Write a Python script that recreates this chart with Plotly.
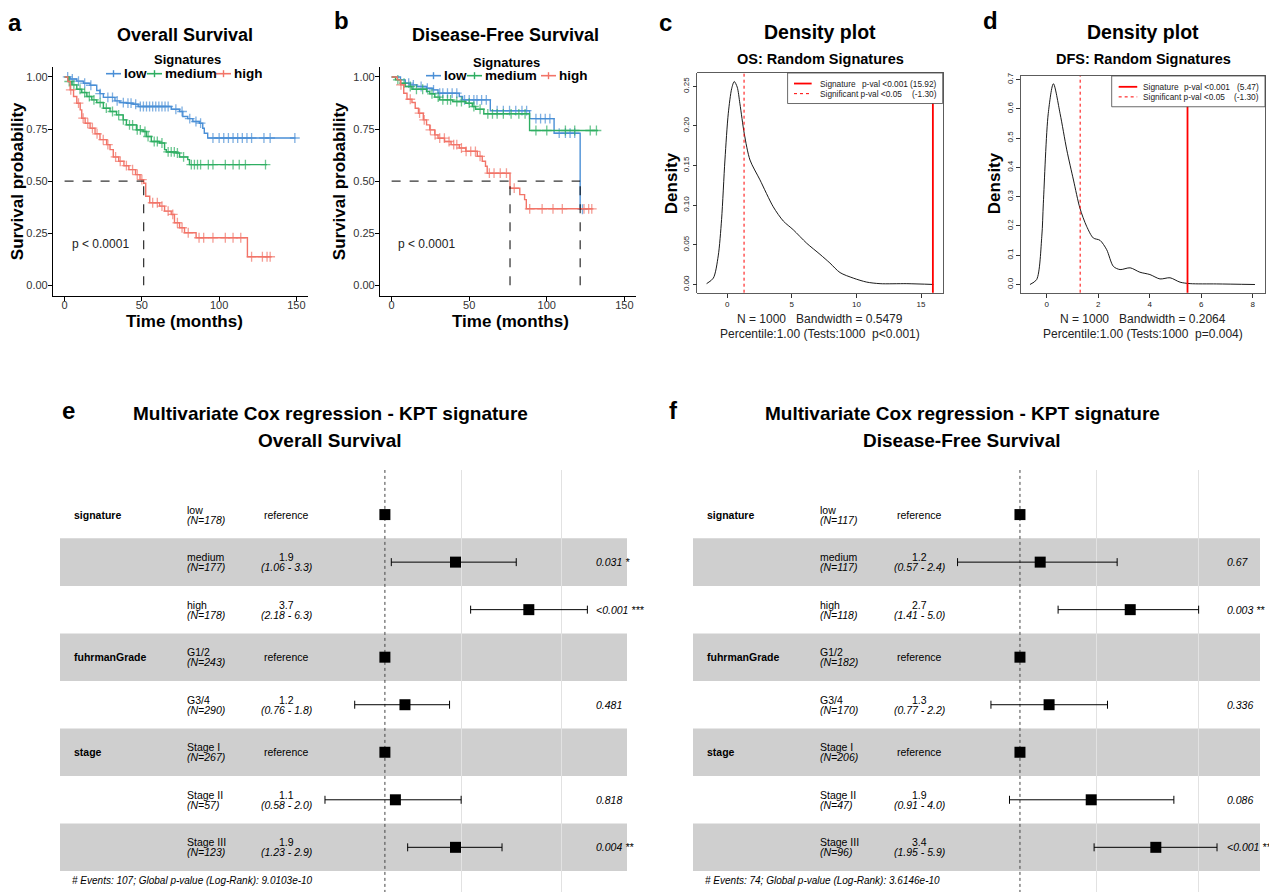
import plotly.graph_objects as go

W, H = 1269, 894
FONT = "Liberation Sans, Arial, Helvetica, sans-serif"


def fx(p):
    return p / W


def fy(p):
    return 1 - p / H


# ------------------------------------------------------------------ KM data
group_names = ["low", "medium", "high"]
group_colors = ["#4A8FD6", "#2EAE62", "#F27468"]

os_low_t = [0, 3.6, 7.9, 12.2, 16.5, 20.8, 22.9, 25.1, 32.6, 35.8, 40.0, 44.4, 47.6, 69.0, 74.4, 76.5, 79.7, 83.0, 87.2, 89.4, 90.4, 92.6, 149.5]
os_low_s = [1.0, 0.99, 0.98, 0.97, 0.96, 0.935, 0.92, 0.902, 0.885, 0.877, 0.874, 0.869, 0.858, 0.845, 0.834, 0.81, 0.80, 0.786, 0.778, 0.754, 0.73, 0.707, 0.707]
os_low_c = [2, 5, 9, 13, 17, 23, 28, 31, 34, 38, 41, 43, 46, 49, 51, 53, 55, 57, 59, 61, 63, 65, 67, 72, 76, 81, 85, 88, 96, 100, 103, 106, 109, 112, 115, 118, 121, 129, 133, 149]

os_med_t = [0, 2.6, 4.7, 7.9, 11.1, 14.4, 17.6, 20.8, 25.1, 29.4, 33.6, 37.9, 40.0, 46.5, 50.8, 52.9, 56.1, 61.5, 64.7, 65.8, 72.2, 74.4, 79.7, 80.8, 131.0]
os_med_s = [1.0, 0.978, 0.962, 0.941, 0.925, 0.906, 0.89, 0.877, 0.85, 0.834, 0.818, 0.794, 0.77, 0.746, 0.738, 0.714, 0.69, 0.683, 0.651, 0.64, 0.635, 0.616, 0.603, 0.579, 0.579]
os_med_c = [3, 6, 10, 13, 16, 19, 23, 27, 31, 35, 38, 42, 44, 47, 49, 52, 54, 58, 60, 63, 67, 69, 71, 73, 77, 82, 84, 86, 88, 93, 96, 104, 109, 113, 117, 130]

os_high_t = [0, 2.1, 3.6, 5.8, 7.9, 10.1, 11.1, 13.3, 16.5, 19.7, 22.9, 27.2, 29.4, 31.5, 35.0, 38.4, 41.6, 45.9, 48.8, 51.2, 52.5, 55.1, 61.5, 64.7, 69.0, 71.1, 74.4, 77.6, 85.1, 118.3, 133.5]
os_high_s = [1.0, 0.978, 0.938, 0.906, 0.874, 0.842, 0.802, 0.778, 0.754, 0.727, 0.699, 0.675, 0.651, 0.616, 0.595, 0.574, 0.555, 0.531, 0.507, 0.49, 0.427, 0.396, 0.38, 0.356, 0.34, 0.30, 0.276, 0.252, 0.228, 0.137, 0.137]
os_high_c = [4, 9, 12, 15, 18, 21, 25, 28, 33, 36, 40, 44, 47, 50, 57, 60, 63, 67, 70, 73, 76, 80, 87, 90, 96, 104, 109, 114, 121, 128, 131, 133]

dfs_low_t = [0, 5.7, 8.8, 12.0, 16.2, 22.5, 26.8, 29.9, 43.6, 45.7, 63.6, 88.9, 104.7, 121.5, 124.0]
dfs_low_s = [1.0, 0.986, 0.97, 0.962, 0.954, 0.946, 0.938, 0.922, 0.906, 0.89, 0.838, 0.80, 0.73, 0.365, 0.365]
dfs_low_c = [11, 14, 19, 23, 27, 31, 33, 36, 39, 42, 47, 50, 53, 55, 58, 61, 68, 72, 76, 80, 84, 87, 93, 96, 99, 102, 108, 112, 115, 118, 123]

dfs_med_t = [0, 2.5, 5.7, 8.8, 13.1, 22.5, 24.6, 27.8, 31.0, 39.4, 47.8, 52.0, 54.1, 59.4, 88.9, 133.0]
dfs_med_s = [1.0, 0.986, 0.97, 0.954, 0.941, 0.93, 0.919, 0.903, 0.89, 0.882, 0.874, 0.858, 0.845, 0.823, 0.743, 0.743]
dfs_med_c = [4, 8, 12, 16, 20, 26, 30, 33, 36, 38, 42, 45, 50, 53, 57, 62, 65, 68, 72, 77, 82, 86, 93, 100, 112, 118, 128, 132]

dfs_high_t = [0, 3.6, 5.7, 7.8, 9.9, 13.1, 15.2, 17.3, 20.4, 22.5, 24.6, 27.8, 29.9, 34.1, 38.3, 43.6, 47.8, 55.2, 58.4, 60.5, 61.6, 76.3, 82.6, 85.7, 86.8, 129.5]
dfs_high_s = [1.0, 0.986, 0.962, 0.922, 0.893, 0.877, 0.85, 0.826, 0.794, 0.77, 0.746, 0.722, 0.706, 0.69, 0.675, 0.659, 0.643, 0.619, 0.595, 0.571, 0.538, 0.466, 0.435, 0.411, 0.367, 0.367]
dfs_high_c = [6, 12, 18, 21, 25, 28, 31, 34, 37, 40, 42, 45, 48, 51, 54, 57, 63, 66, 70, 74, 79, 89, 97, 104, 110, 124, 127, 129]

os_medians = [51.2]
dfs_medians = [76.3, 121.5]

km_xticks = [0, 50, 100, 150]
km_yticks = [0, 0.25, 0.5, 0.75, 1.0]

# ------------------------------------------------------------ density data
os_dens_x = [-1.6, -1.08, -0.70, -0.44, -0.18, 0.08, 0.34, 0.54, 0.77, 0.98, 1.32, 1.76, 2.53, 3.56, 4.34, 5.11, 6.15, 7.18, 7.95, 8.73, 9.76, 10.79, 11.83, 13.9, 15.96]
os_dens_y = [0.001, 0.008, 0.036, 0.082, 0.157, 0.216, 0.247, 0.256, 0.249, 0.228, 0.19, 0.157, 0.132, 0.098, 0.080, 0.069, 0.052, 0.038, 0.027, 0.015, 0.008, 0.003, 0.001, 0.001, 0.0]
dfs_dens_x = [-0.65, -0.39, -0.19, -0.13, 0.06, 0.26, 0.52, 0.78, 1.04, 1.29, 1.55, 1.81, 2.07, 2.33, 2.59, 2.85, 3.24, 3.62, 4.01, 4.4, 4.79, 5.18, 5.57, 6.6, 8.09]
dfs_dens_y = [0.0, 0.017, 0.165, 0.278, 0.584, 0.686, 0.584, 0.46, 0.357, 0.261, 0.199, 0.159, 0.151, 0.119, 0.062, 0.051, 0.057, 0.042, 0.034, 0.019, 0.023, 0.008, 0.003, 0.002, 0.0]
os_signature_val = 15.92
dfs_signature_val = 5.47
significance_val = 1.30

# ------------------------------------------------------------- forest data
forest_vars = ["signature", "", "", "fuhrmanGrade", "", "stage", "", ""]
forest_levels = ["low", "medium", "high", "G1/2", "G3/4", "Stage I", "Stage II", "Stage III"]

os_n = [178, 177, 178, 243, 290, 267, 57, 123]
os_hr = [1.0, 1.9, 3.7, 1.0, 1.2, 1.0, 1.1, 1.9]
os_lo = [1.0, 1.06, 2.18, 1.0, 0.76, 1.0, 0.58, 1.23]
os_hi = [1.0, 3.3, 6.3, 1.0, 1.8, 1.0, 2.0, 2.9]
os_hr_txt = ["reference", "1.9", "3.7", "reference", "1.2", "reference", "1.1", "1.9"]
os_ci_txt = ["", "(1.06 - 3.3)", "(2.18 - 6.3)", "", "(0.76 - 1.8)", "", "(0.58 - 2.0)", "(1.23 - 2.9)"]
os_p_txt = ["", "0.031 *", "&lt;0.001 ***", "", "0.481", "", "0.818", "0.004 **"]
os_footer = "# Events: 107; Global p-value (Log-Rank): 9.0103e-10"

dfs_n = [117, 117, 118, 182, 170, 206, 47, 96]
dfs_hr = [1.0, 1.2, 2.7, 1.0, 1.3, 1.0, 1.9, 3.4]
dfs_lo = [1.0, 0.57, 1.41, 1.0, 0.77, 1.0, 0.91, 1.95]
dfs_hi = [1.0, 2.4, 5.0, 1.0, 2.2, 1.0, 4.0, 5.9]
dfs_hr_txt = ["reference", "1.2", "2.7", "reference", "1.3", "reference", "1.9", "3.4"]
dfs_ci_txt = ["", "(0.57 - 2.4)", "(1.41 - 5.0)", "", "(0.77 - 2.2)", "", "(0.91 - 4.0)", "(1.95 - 5.9)"]
dfs_p_txt = ["", "0.67", "0.003 **", "", "0.336", "", "0.086", "&lt;0.001 ***"]
dfs_footer = "# Events: 74; Global p-value (Log-Rank): 3.6146e-10"

fig = go.Figure()
annotations = []
shapes = []


def surv_at(ts, ss, c):
    val = ss[0]
    for t, s in zip(ts, ss):
        if t <= c:
            val = s
    return val


def add_km(xa, ya, curves, medians):
    for (ts, ss, cs), name, col in zip(curves, group_names, group_colors):
        pts = [(t, s, 0) for t, s in zip(ts, ss)] + [(c, surv_at(ts, ss, c), 7) for c in cs]
        pts.sort(key=lambda p: (p[0], p[2]))
        fig.add_trace(go.Scatter(
            x=[p[0] for p in pts], y=[p[1] for p in pts],
            mode="lines+markers", line=dict(shape="hv", color=col, width=1.4),
            marker=dict(symbol="cross-thin", size=[p[2] for p in pts],
                        line=dict(color=col, width=1.3), color=col),
            name=name, showlegend=False, xaxis=xa, yaxis=ya, hoverinfo="skip"))
    fig.add_trace(go.Scatter(x=[0, max(medians)], y=[0.5, 0.5], mode="lines",
                             line=dict(color="black", width=1, dash="dash"),
                             showlegend=False, xaxis=xa, yaxis=ya, hoverinfo="skip"))
    for m in medians:
        fig.add_trace(go.Scatter(x=[m, m], y=[0, 0.5], mode="lines",
                                 line=dict(color="black", width=1, dash="dash"),
                                 showlegend=False, xaxis=xa, yaxis=ya, hoverinfo="skip"))


add_km("x", "y",
       [(os_low_t, os_low_s, os_low_c), (os_med_t, os_med_s, os_med_c), (os_high_t, os_high_s, os_high_c)],
       os_medians)
add_km("x2", "y2",
       [(dfs_low_t, dfs_low_s, dfs_low_c), (dfs_med_t, dfs_med_s, dfs_med_c), (dfs_high_t, dfs_high_s, dfs_high_c)],
       dfs_medians)


def km_legend(title_xy, item_y, line_x0s):
    annotations.append(dict(xref="paper", yref="paper", x=fx(title_xy[0]), y=fy(title_xy[1]),
                            text="<b>Signatures</b>", showarrow=False, xanchor="center", yanchor="middle",
                            font=dict(size=13, color="black", family=FONT)))
    for x0, name, col in zip(line_x0s, group_names, group_colors):
        shapes.append(dict(type="line", xref="paper", yref="paper", x0=fx(x0), x1=fx(x0 + 15),
                           y0=fy(item_y), y1=fy(item_y), line=dict(color=col, width=1.6)))
        shapes.append(dict(type="line", xref="paper", yref="paper", x0=fx(x0 + 7.5), x1=fx(x0 + 7.5),
                           y0=fy(item_y - 3.5), y1=fy(item_y + 3.5), line=dict(color=col, width=1.4)))
        annotations.append(dict(xref="paper", yref="paper", x=fx(x0 + 16), y=fy(item_y),
                                text="<b>%s</b>" % name, showarrow=False, xanchor="left", yanchor="middle",
                                font=dict(size=13.5, color="black", family=FONT)))


km_legend((187, 56), 70, [106, 147, 216])
km_legend((506, 59), 72, [426, 467, 541])

km_x = dict(range=[-7.5, 157.5], tickvals=km_xticks, showline=True, linecolor="black", linewidth=1.1,
            ticks="outside", ticklen=4, tickcolor="black", showgrid=False, zeroline=False,
            ticklabelstandoff=-5, tickfont=dict(size=11, color="#333333"))
km_y = dict(range=[-0.05, 1.05], tickvals=km_yticks, tickformat=".2f", showline=True, linecolor="black",
            linewidth=1.1, ticks="outside", ticklen=4, tickcolor="black", showgrid=False, zeroline=False,
            ticklabelstandoff=-2, tickfont=dict(size=11, color="#333333"))


# ------------------------------------------------------------- density
def add_density(xa, ya, xs, ys, sig):
    fig.add_trace(go.Scatter(x=xs, y=ys, mode="lines",
                             line=dict(color="black", width=0.9, shape="spline", smoothing=0.8),
                             showlegend=False, xaxis=xa, yaxis=ya, hoverinfo="skip"))
    shapes.append(dict(type="line", xref=xa, yref=ya + " domain", x0=significance_val, x1=significance_val,
                       y0=0, y1=1, line=dict(color="#FF0000", width=1, dash="dot")))
    shapes.append(dict(type="line", xref=xa, yref=ya + " domain", x0=sig, x1=sig,
                       y0=0, y1=1, line=dict(color="#FF0000", width=1.8)))


add_density("x3", "y3", os_dens_x, os_dens_y, os_signature_val)
add_density("x4", "y4", dfs_dens_x, dfs_dens_y, dfs_signature_val)


def density_legend(xa, ya, bx0, by0, lx0, lx1, ly1, ly2, tx, tx2, tr, right_txt):
    dref = dict(xref=xa + " domain", yref=ya + " domain")
    shapes.append(dict(dref, type="rect", x0=bx0, x1=1, y0=by0, y1=1,
                       fillcolor="white", line=dict(color="#444444", width=0.8)))
    shapes.append(dict(dref, type="line", x0=lx0, x1=lx1, y0=ly1, y1=ly1,
                       line=dict(color="#FF0000", width=1.8)))
    shapes.append(dict(dref, type="line", x0=lx0, x1=lx1, y0=ly2, y1=ly2,
                       line=dict(color="#FF0000", width=1, dash="dot")))
    f = dict(size=8.3, color="#222222", family=FONT)
    annotations.append(dict(dref, x=tx, y=ly1, xanchor="left", yanchor="middle",
                            text="Signature", showarrow=False, font=f))
    annotations.append(dict(dref, x=tx2, y=ly1, xanchor="left", yanchor="middle",
                            text="p-val &lt;0.001", showarrow=False, font=f))
    annotations.append(dict(dref, x=tr, y=ly1, xanchor="right", yanchor="middle",
                            text=right_txt, showarrow=False, font=f))
    annotations.append(dict(dref, x=tx, y=ly2, xanchor="left", yanchor="middle",
                            text="Significant p-val &lt;0.05", showarrow=False, font=f))
    annotations.append(dict(dref, x=tr, y=ly2, xanchor="right", yanchor="middle",
                            text="(-1.30)", showarrow=False, font=f))


density_legend("x3", "y3", 0.368, 0.861, 0.394, 0.466, 0.952, 0.906, 0.492, 0.665, 0.983, "(15.92)")
density_legend("x4", "y4", 0.3725, 0.858, 0.401, 0.477, 0.95, 0.9035, 0.494, 0.662, 0.983, "(5.47)")

dens_common = dict(showline=True, mirror=True, linecolor="#333333", linewidth=0.8, ticks="outside", ticklen=4,
                   tickcolor="#333333", showgrid=False, zeroline=False, tickfont=dict(size=8, color="#222222"))


# ------------------------------------------------------------- forest
def add_forest(xa, ya, n, hr, lo, hi, hr_txt, ci_txt, p_txt, footer, cols):
    rows = list(range(1, len(hr) + 1))
    for r in rows:
        if r % 2 == 0:
            shapes.append(dict(type="rect", xref=xa + " domain", yref=ya, x0=0, x1=1, y0=r - 0.5, y1=r + 0.5,
                               fillcolor="#cfcfcf", line=dict(width=0), layer="below"))
    fig.add_trace(go.Scatter(x=[1, 1], y=[0.06, 8.94], mode="lines", line=dict(color="#444444", width=1, dash="dot"),
                             showlegend=False, xaxis=xa, yaxis=ya, hoverinfo="skip"))
    fig.add_trace(go.Scatter(
        x=hr, y=rows, mode="markers", marker=dict(symbol="square", size=11, color="black"),
        error_x=dict(type="data", symmetric=False, array=[h - m for h, m in zip(hi, hr)],
                     arrayminus=[m - l for m, l in zip(hr, lo)], color="black", thickness=1, width=4),
        showlegend=False, xaxis=xa, yaxis=ya, hoverinfo="skip"))
    cv, cl, ch, cp = cols
    fs = 10.5
    for r, v, lev, nn, ht, ct, pt in zip(rows, forest_vars, forest_levels, n, hr_txt, ci_txt, p_txt):
        base = dict(xref=xa + " domain", yref=ya, showarrow=False)
        if v:
            annotations.append(dict(base, x=cv, y=r, xanchor="left", yanchor="middle", text="<b>%s</b>" % v,
                                    font=dict(size=fs, color="black")))
        annotations.append(dict(base, x=cl, y=r, xanchor="left", yanchor="bottom", text=lev, yshift=-3,
                                font=dict(size=fs, color="black")))
        annotations.append(dict(base, x=cl, y=r, xanchor="left", yanchor="top", text="<i>(N=%d)</i>" % nn,
                                yshift=3, font=dict(size=fs, color="black")))
        if ct:
            annotations.append(dict(base, x=ch, y=r, xanchor="center", yanchor="bottom", text=ht, yshift=-3,
                                    font=dict(size=fs, color="black")))
            annotations.append(dict(base, x=ch, y=r, xanchor="center", yanchor="top", text="<i>%s</i>" % ct,
                                    yshift=3, font=dict(size=fs, color="black")))
        else:
            annotations.append(dict(base, x=ch, y=r, xanchor="center", yanchor="middle", text=ht,
                                    font=dict(size=fs, color="black")))
        if pt:
            annotations.append(dict(base, x=cp, y=r, xanchor="left", yanchor="middle", text="<i>%s</i>" % pt,
                                    font=dict(size=fs, color="black")))
    annotations.append(dict(xref=xa + " domain", yref=ya, x=0.018, y=8.69, xanchor="left", yanchor="middle",
                            text="<i>%s</i>" % footer, showarrow=False, font=dict(size=10, color="black")))


add_forest("x5", "y5", os_n, os_hr, os_lo, os_hi, os_hr_txt, os_ci_txt, os_p_txt, os_footer,
           (0.0215, 0.220, 0.40, 0.942))
add_forest("x6", "y6", dfs_n, dfs_hr, dfs_lo, dfs_hi, dfs_hr_txt, dfs_ci_txt, dfs_p_txt, dfs_footer,
           (0.022, 0.2205, 0.40, 0.938))

forest_x = dict(type="log", showticklabels=False, showgrid=True, tickvals=[2, 5], gridcolor="#e2e2e2",
                gridwidth=1, ticks="", showline=False, zeroline=False)
forest_y = dict(range=[8.94, 0.06], showgrid=False, showticklabels=False, zeroline=False, showline=False,
                ticks="")


# ------------------------------------------------------------- titles
def txt(x, y, s, size, bold=False, italic=False, angle=0, color="black", xanchor="center"):
    t = s
    if bold:
        t = "<b>%s</b>" % t
    if italic:
        t = "<i>%s</i>" % t
    annotations.append(dict(xref="paper", yref="paper", x=fx(x), y=fy(y), text=t, showarrow=False,
                            xanchor=xanchor, yanchor="middle", textangle=angle,
                            font=dict(size=size, color=color, family=FONT)))


for lab, x, y in [("a", 15, 19), ("b", 341, 17), ("c", 665, 19), ("d", 990, 17), ("e", 68, 408), ("f", 673, 408)]:
    txt(x, y, lab, 24, bold=True)

txt(185, 31, "Overall Survival", 18, bold=True)
txt(505, 31, "Disease-Free Survival", 18, bold=True)
for cx in (17, 339):
    txt(cx, 178, "Survival probability", 17, bold=True, angle=-90)
for cx in (185, 510):
    txt(cx, 319, "Time (months)", 17, bold=True)
txt(70, 241, "p &lt; 0.0001", 12, color="#222222", xanchor="left")
txt(396, 241, "p &lt; 0.0001", 12, color="#222222", xanchor="left")

txt(820, 28, "Density plot", 19.5, bold=True)
txt(820, 55, "OS: Random Signatures", 14.5, bold=True)
txt(1143, 28, "Density plot", 19.5, bold=True)
txt(1143, 55, "DFS: Random Signatures", 14.5, bold=True)
txt(671, 180, "Density", 17, bold=True, angle=-90)
txt(994, 180, "Density", 17, bold=True, angle=-90)
txt(820, 316, "N = 1000&nbsp;&nbsp;&nbsp;Bandwidth = 0.5479", 12, color="#222222")
txt(820, 331, "Percentile:1.00 (Tests:1000&nbsp;&nbsp;p&lt;0.001)", 12, color="#222222")
txt(1143, 316, "N = 1000&nbsp;&nbsp;&nbsp;Bandwidth = 0.2064", 12, color="#222222")
txt(1143, 331, "Percentile:1.00 (Tests:1000&nbsp;&nbsp;p=0.004)", 12, color="#222222")

txt(330, 411, "Multivariate Cox regression - KPT signature", 19, bold=True)
txt(330, 438, "Overall Survival", 19, bold=True)
txt(962, 411, "Multivariate Cox regression - KPT signature", 19, bold=True)
txt(962, 438, "Disease-Free Survival", 19, bold=True)

fig.update_layout(
    width=W, height=H, autosize=False, margin=dict(l=0, r=0, t=0, b=0),
    paper_bgcolor="white", plot_bgcolor="white",
    font=dict(family=FONT, color="black"),
    showlegend=False,
    xaxis=dict(km_x, domain=[fx(53), fx(308)], anchor="y"),
    yaxis=dict(km_y, domain=[fy(293), fy(62.8)], anchor="x"),
    xaxis2=dict(km_x, domain=[fx(380), fx(636)], anchor="y2"),
    yaxis2=dict(km_y, domain=[fy(293), fy(62.8)], anchor="x2"),
    xaxis3=dict(dens_common, domain=[fx(697.3), fx(942.7)], anchor="y3", range=[-2.32, 16.68], tickvals=[0, 5, 10, 15]),
    yaxis3=dict(dens_common, domain=[fy(290), fy(69.3)], anchor="x3", range=[-0.0104, 0.2668],
                tickvals=[0, 0.05, 0.10, 0.15, 0.20, 0.25], tickformat=".2f", tickangle=-90),
    xaxis4=dict(dens_common, domain=[fx(1020.7), fx(1265)], anchor="y4", range=[-1.01, 8.48], tickvals=[0, 2, 4, 6, 8]),
    yaxis4=dict(dens_common, domain=[fy(290), fy(72.3)], anchor="x4", range=[-0.028, 0.7125],
                tickvals=[0, 0.1, 0.2, 0.3, 0.4, 0.5, 0.6, 0.7], tickformat=".1f", tickangle=-90),
    xaxis5=dict(forest_x, domain=[fx(60), fx(627)], anchor="y5", range=[-1.2827, 0.9558]),
    yaxis5=dict(forest_y, domain=[fy(892), fy(468)], anchor="x5"),
    xaxis6=dict(forest_x, domain=[fx(693), fx(1260)], anchor="y6", range=[-1.279, 0.939]),
    yaxis6=dict(forest_y, domain=[fy(892), fy(468)], anchor="x6"),
    annotations=annotations,
    shapes=shapes,
)

fig.write_html("out.html", config={"displayModeBar": False, "staticPlot": True},
               post_script="document.body.style.margin='0px';document.body.style.overflow='hidden';")
